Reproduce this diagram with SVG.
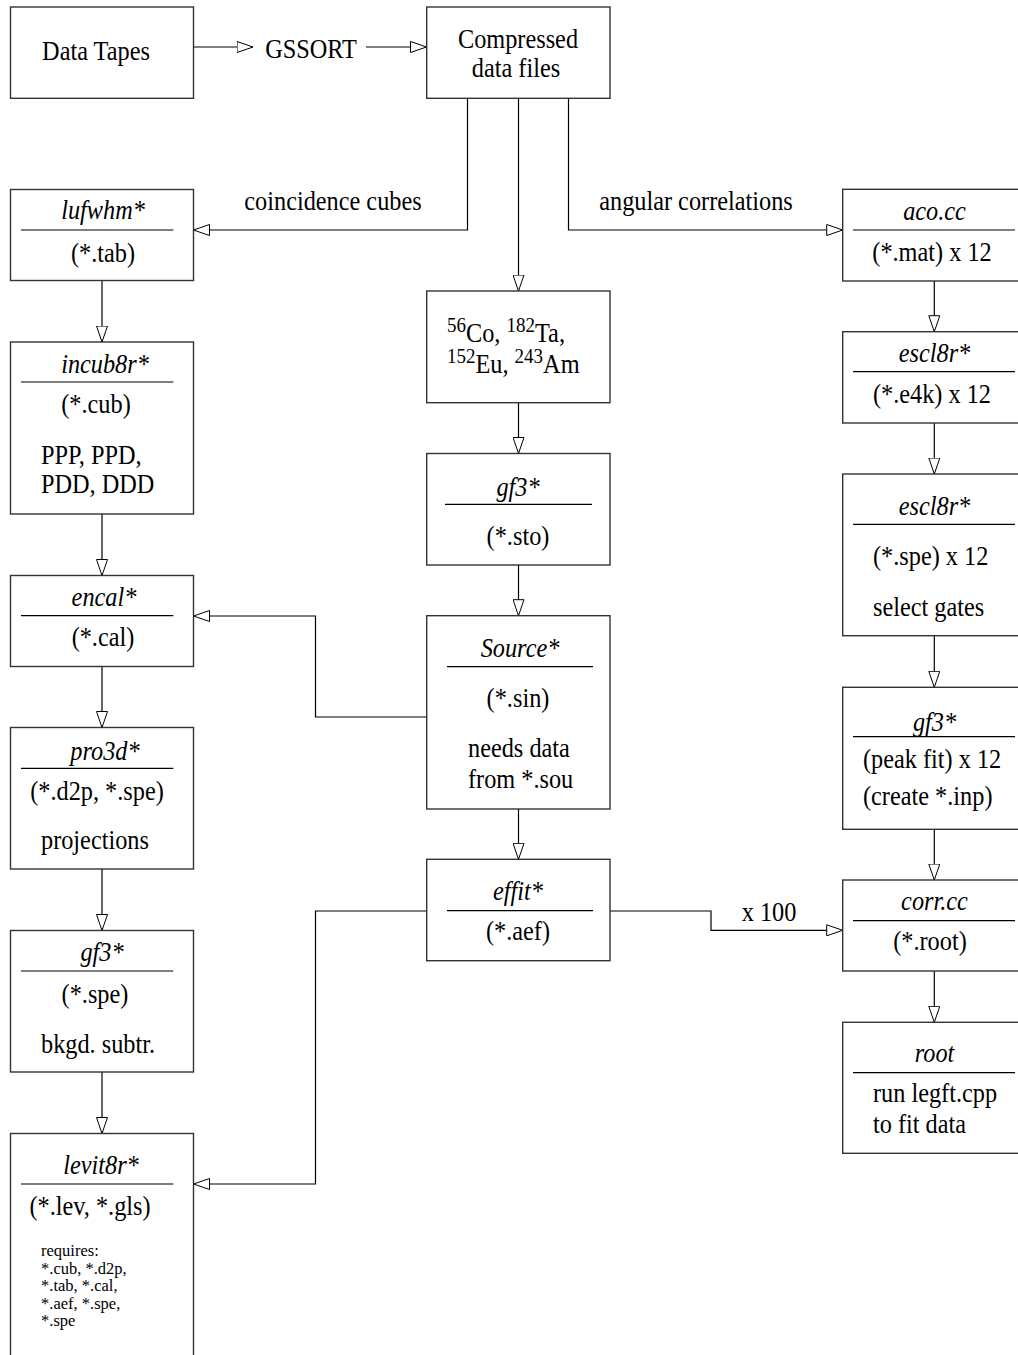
<svg xmlns="http://www.w3.org/2000/svg" width="1018" height="1355" viewBox="0 0 1018 1355">
<defs>
<style>
.box{fill:#fff;stroke:#333;stroke-width:1.4}
.div{stroke:#000;stroke-width:1.2}
.con{fill:none;stroke:#000;stroke-width:1.2;marker-end:url(#ah)}
text{font-family:"Liberation Serif","Times New Roman",serif;font-size:24.3px;fill:#000;transform:scale(1,1.14);transform-origin:0 0}
.t{text-anchor:middle;font-style:italic}
.c{text-anchor:middle}
.s{font-size:16.5px;transform:none}
.sup{font-size:19px}
</style>
<marker id="ah" viewBox="0 0 17 12" refX="16.5" refY="6" markerWidth="17" markerHeight="12" markerUnits="userSpaceOnUse" orient="auto">
<path d="M0.5,0.5 L16.5,6 L0.5,11.5 Z" fill="#fff" stroke="#000" stroke-width="1"/>
</marker>
</defs>
<rect width="1018" height="1355" fill="#fff"/>

<g id="connectors">
<path class="con" d="M193,47 H253"/>
<path class="con" d="M366,47 H426.5"/>
<path class="con" d="M467.5,98 V230 H193.5"/>
<path class="con" d="M518.5,98 V291"/>
<path class="con" d="M568.5,98 V230 H842.7"/>
<path class="con" d="M102,280.5 V342"/>
<path class="con" d="M102,514 V575.5"/>
<path class="con" d="M102,666.5 V727.5"/>
<path class="con" d="M102,869 V930.5"/>
<path class="con" d="M102,1072 V1133.5"/>
<path class="con" d="M518.5,402.7 V453.5"/>
<path class="con" d="M518.5,565 V615.7"/>
<path class="con" d="M518.5,809 V859.3"/>
<path class="con" d="M426.7,717 H315.5 V616 H193.5"/>
<path class="con" d="M426.7,911 H315.5 V1184 H193.5"/>
<path class="con" d="M610,911 H711 V930.3 H842.7"/>
<path class="con" d="M934.3,281 V331.7"/>
<path class="con" d="M934.3,423 V474"/>
<path class="con" d="M934.3,635.7 V687.3"/>
<path class="con" d="M934.3,829.3 V880"/>
<path class="con" d="M934.3,971 V1022.3"/>
<text class="c" x="311" y="51.1">GSSORT</text>
<text class="c" x="333" y="184.2">coincidence cubes</text>
<text class="c" x="696" y="184.2">angular correlations</text>
<text class="c" x="769" y="807.6">x 100</text>
</g>

<g id="data-tapes">
<rect class="box" x="10.5" y="7" width="183" height="91.3"/>
<text class="c" x="96" y="52.6">Data Tapes</text>
</g>

<g id="compressed">
<rect class="box" x="426.7" y="7" width="183.3" height="91.3"/>
<text class="c" x="518" y="42.4">Compressed</text>
<text class="c" x="516" y="67.8">data files</text>
</g>

<g id="lufwhm">
<rect class="box" x="10.5" y="189.5" width="183" height="91"/>
<text class="t" x="103" y="192.5">lufwhm*</text>
<line class="div" x1="21" y1="230" x2="173.3" y2="230"/>
<text class="c" x="103" y="229.4">(*.tab)</text>
</g>

<g id="incub8r">
<rect class="box" x="10.5" y="342" width="183" height="172"/>
<text class="t" x="105" y="326.8">incub8r*</text>
<line class="div" x1="21" y1="382" x2="173.3" y2="382"/>
<text class="c" x="96" y="362.3">(*.cub)</text>
<text x="41" y="407">PPP, PPD,</text>
<text x="41" y="432.9">PDD, DDD</text>
</g>

<g id="encal">
<rect class="box" x="10.5" y="575.5" width="183" height="91"/>
<text class="t" x="104" y="531.6">encal*</text>
<line class="div" x1="21" y1="615.7" x2="173.3" y2="615.7"/>
<text class="c" x="103" y="567.1">(*.cal)</text>
</g>

<g id="pro3d">
<rect class="box" x="10.5" y="727.5" width="183" height="141.5"/>
<text class="t" x="105" y="666.7">pro3d*</text>
<line class="div" x1="21" y1="768.3" x2="173.3" y2="768.3"/>
<text class="c" x="97" y="701.8">(*.d2p, *.spe)</text>
<text x="41" y="744.7">projections</text>
</g>

<g id="gf3-left">
<rect class="box" x="10.5" y="930.5" width="183" height="141.5"/>
<text class="t" x="102" y="843">gf3*</text>
<line class="div" x1="21" y1="971" x2="173.3" y2="971"/>
<text class="c" x="95" y="879.8">(*.spe)</text>
<text x="41" y="923.7">bkgd. subtr.</text>
</g>

<g id="levit8r">
<rect class="box" x="10.5" y="1133.5" width="183" height="240"/>
<text class="t" x="101" y="1029.4">levit8r*</text>
<line class="div" x1="21" y1="1184" x2="173.3" y2="1184"/>
<text class="c" x="90" y="1065.4">(*.lev, *.gls)</text>
<text class="s" x="41" y="1256">requires:</text>
<text class="s" x="41" y="1273.5">*.cub, *.d2p,</text>
<text class="s" x="41" y="1291">*.tab, *.cal,</text>
<text class="s" x="41" y="1308.5">*.aef, *.spe,</text>
<text class="s" x="41" y="1326">*.spe</text>
</g>

<g id="isotopes">
<rect class="box" x="426.7" y="291" width="183.3" height="111.7"/>
<text x="447" y="299.7"><tspan class="sup" dy="-8.8">56</tspan><tspan dy="8.8">Co, </tspan><tspan class="sup" dy="-8.8">182</tspan><tspan dy="8.8">Ta,</tspan></text>
<text x="447" y="326.9"><tspan class="sup" dy="-8.8">152</tspan><tspan dy="8.8">Eu, </tspan><tspan class="sup" dy="-8.8">243</tspan><tspan dy="8.8">Am</tspan></text>
</g>

<g id="gf3-mid">
<rect class="box" x="426.7" y="453.5" width="183.3" height="111.5"/>
<text class="t" x="518" y="435.1">gf3*</text>
<line class="div" x1="445" y1="504.3" x2="592" y2="504.3"/>
<text class="c" x="518" y="478.1">(*.sto)</text>
</g>

<g id="source">
<rect class="box" x="426.7" y="615.7" width="183.3" height="193.3"/>
<text class="t" x="520" y="576">Source*</text>
<line class="div" x1="447" y1="666.7" x2="593" y2="666.7"/>
<text class="c" x="518" y="620.4">(*.sin)</text>
<text x="468" y="664.3">needs data</text>
<text x="468" y="691">from *.sou</text>
</g>

<g id="effit">
<rect class="box" x="426.7" y="859.3" width="183.3" height="101.4"/>
<text class="t" x="518" y="789.5">effit*</text>
<line class="div" x1="447" y1="910.7" x2="593" y2="910.7"/>
<text class="c" x="518" y="824.6">(*.aef)</text>
</g>

<g id="aco">
<rect class="box" x="842.7" y="189.3" width="183.3" height="91.7"/>
<text class="t" x="934.5" y="193">aco.cc</text>
<line class="div" x1="853" y1="230" x2="1015" y2="230"/>
<text class="c" x="932" y="228.7">(*.mat) x 12</text>
</g>

<g id="escl8r-1">
<rect class="box" x="842.7" y="331.7" width="183.3" height="91.3"/>
<text class="t" x="934.5" y="317.3">escl8r*</text>
<line class="div" x1="853" y1="371.7" x2="1015" y2="371.7"/>
<text class="c" x="932" y="353.3">(*.e4k) x 12</text>
</g>

<g id="escl8r-2">
<rect class="box" x="842.7" y="474" width="183.3" height="161.7"/>
<text class="t" x="934.5" y="451.8">escl8r*</text>
<line class="div" x1="853" y1="524.3" x2="1015" y2="524.3"/>
<text x="873" y="495.6">(*.spe) x 12</text>
<text x="873" y="540.4">select gates</text>
</g>

<g id="gf3-right">
<rect class="box" x="842.7" y="687.3" width="183.3" height="142"/>
<text class="t" x="934.5" y="641">gf3*</text>
<line class="div" x1="853" y1="736.7" x2="1015" y2="736.7"/>
<text x="863" y="673.7">(peak fit) x 12</text>
<text x="863" y="706.1">(create *.inp)</text>
</g>

<g id="corr">
<rect class="box" x="842.7" y="880" width="183.3" height="91"/>
<text class="t" x="934.5" y="798.3">corr.cc</text>
<line class="div" x1="853" y1="920.7" x2="1015" y2="920.7"/>
<text class="c" x="930" y="833.3">(*.root)</text>
</g>

<g id="root">
<rect class="box" x="842.7" y="1022.3" width="183.3" height="131"/>
<text class="t" x="934.5" y="931.3">root</text>
<line class="div" x1="853" y1="1072.7" x2="1015" y2="1072.7"/>
<text x="873" y="966.4">run legft.cpp</text>
<text x="873" y="993.6">to fit data</text>
</g>
</svg>
